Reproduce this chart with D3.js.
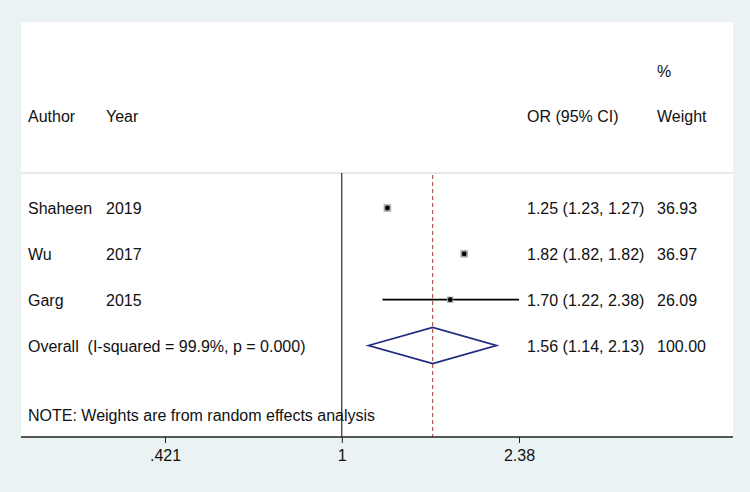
<!DOCTYPE html>
<html>
<head>
<meta charset="utf-8">
<script src="https://cdn.jsdelivr.net/npm/d3@7"></script>
<style>
  body{margin:0;background:#eaf2f3;}
  svg text{font-family:"Liberation Sans",Arial,sans-serif;font-size:16px;fill:#111;white-space:pre;}
</style>
</head>
<body>
<div id="forest"></div>
<script>
// study rows
var authors=["Shaheen","Wu","Garg"];
var years=["2019","2017","2015"];
var orVals=[1.25,1.82,1.70];
var lowVals=[1.23,1.82,1.22];
var highVals=[1.27,1.82,2.38];
var weights=[36.93,36.97,26.09];
// pooled estimate
var overallLabel="Overall  (I-squared = 99.9%, p = 0.000)";
var overallOr=1.56, overallLow=1.14, overallHigh=2.13, overallWeight=100.00;
var noteText="NOTE: Weights are from random effects analysis";
// axis
var tickVals=[0.421,1,2.38];
var tickLabels=[".421","1","2.38"];

var width=750, height=492;
var plot={left:21, top:22, right:733, bottom:437};
var sepY=173;

var svg=d3.select("#forest").append("svg")
    .attr("width",width).attr("height",height);

svg.append("rect").attr("x",0).attr("y",0).attr("width",width).attr("height",height)
    .attr("fill","#eaf2f3");
svg.append("rect").attr("x",plot.left).attr("y",plot.top)
    .attr("width",plot.right-plot.left).attr("height",plot.bottom-plot.top)
    .attr("fill","#ffffff");

var x=d3.scaleLog().domain([tickVals[0],tickVals[2]]).range([165,519]);
var y=d3.scaleLinear().domain([0,3]).range([208,345.5]);

var colAuthor=28, colYear=106, colOr=527, colWeight=657;
var fmt=d3.format(".2f");

//==================header=======================
var head=svg.append("g").attr("class","header");
head.append("text").attr("x",colWeight).attr("y",77).text("%");
head.append("text").attr("x",colAuthor).attr("y",122).text("Author");
head.append("text").attr("x",colYear).attr("y",122).text("Year");
head.append("text").attr("x",colOr).attr("y",122).text("OR (95% CI)");
head.append("text").attr("x",colWeight).attr("y",122).text("Weight");

svg.append("line").attr("x1",plot.left).attr("x2",plot.right)
    .attr("y1",sepY).attr("y2",sepY)
    .attr("stroke","#d4d4d4").attr("stroke-width",1.2);

//==================reference lines=======================
svg.append("line").attr("x1",x(1)).attr("x2",x(1))
    .attr("y1",sepY).attr("y2",plot.bottom)
    .attr("stroke","#000").attr("stroke-width",1);
svg.append("line").attr("x1",x(overallOr)).attr("x2",x(overallOr))
    .attr("y1",sepY+2).attr("y2",plot.bottom)
    .attr("stroke","#a33a3a").attr("stroke-width",1)
    .attr("stroke-dasharray","4,3");

//==================studies=======================
var rows=authors.map(function(a,i){
    return {author:a,year:years[i],or:orVals[i],lo:lowVals[i],hi:highVals[i],w:weights[i],i:i};
});
var maxW=d3.max(weights);
var g=svg.append("g").attr("class","studies");
rows.forEach(function(d){
    var cy=y(d.i);
    if(d.hi>d.lo){
        g.append("line").attr("x1",x(d.lo)).attr("x2",x(d.hi))
            .attr("y1",cy).attr("y2",cy)
            .attr("stroke","#000").attr("stroke-width",1.6);
    }
    var s=7.5*Math.sqrt(d.w/maxW);
    g.append("rect").attr("x",x(d.or)-s/2).attr("y",cy-s/2)
        .attr("width",s).attr("height",s).attr("fill","#a8a8a8");
    g.append("circle").attr("cx",x(d.or)).attr("cy",cy).attr("r",2.4).attr("fill","#000");

    var ty=cy+6;
    g.append("text").attr("x",colAuthor).attr("y",ty).text(d.author);
    g.append("text").attr("x",colYear).attr("y",ty).text(d.year);
    g.append("text").attr("x",colOr).attr("y",ty)
        .text(fmt(d.or)+" ("+fmt(d.lo)+", "+fmt(d.hi)+")");
    g.append("text").attr("x",colWeight).attr("y",ty).text(fmt(d.w));
});

//==================overall diamond=======================
var oy=y(3);
var dh=18;
svg.append("path")
    .attr("d","M"+x(overallLow)+","+oy+"L"+x(overallOr)+","+(oy-dh)+"L"+x(overallHigh)+","+oy+"L"+x(overallOr)+","+(oy+dh)+"Z")
    .attr("fill","none").attr("stroke","#1f2a80").attr("stroke-width",1.8);
svg.append("text").attr("x",colAuthor).attr("y",oy+6).attr("xml:space","preserve").text(overallLabel);
svg.append("text").attr("x",colOr).attr("y",oy+6)
    .text(fmt(overallOr)+" ("+fmt(overallLow)+", "+fmt(overallHigh)+")");
svg.append("text").attr("x",colWeight).attr("y",oy+6).text(fmt(overallWeight));

svg.append("text").attr("x",colAuthor).attr("y",421).text(noteText);

//==================x axis=======================
svg.append("line").attr("x1",plot.left).attr("x2",plot.right)
    .attr("y1",plot.bottom).attr("y2",plot.bottom)
    .attr("stroke","#222").attr("stroke-width",1.6);
var axis=d3.axisBottom(x).tickValues(tickVals)
    .tickFormat(function(d,i){return tickLabels[i];})
    .tickSize(6).tickPadding(7);
var ax=svg.append("g").attr("transform","translate(0,"+plot.bottom+")").call(axis);
ax.select(".domain").remove();
ax.selectAll(".tick line").attr("stroke","#222");
ax.selectAll(".tick text").style("font-size","16px").style("font-family","'Liberation Sans',Arial,sans-serif").attr("fill","#111");
</script>
</body>
</html>
